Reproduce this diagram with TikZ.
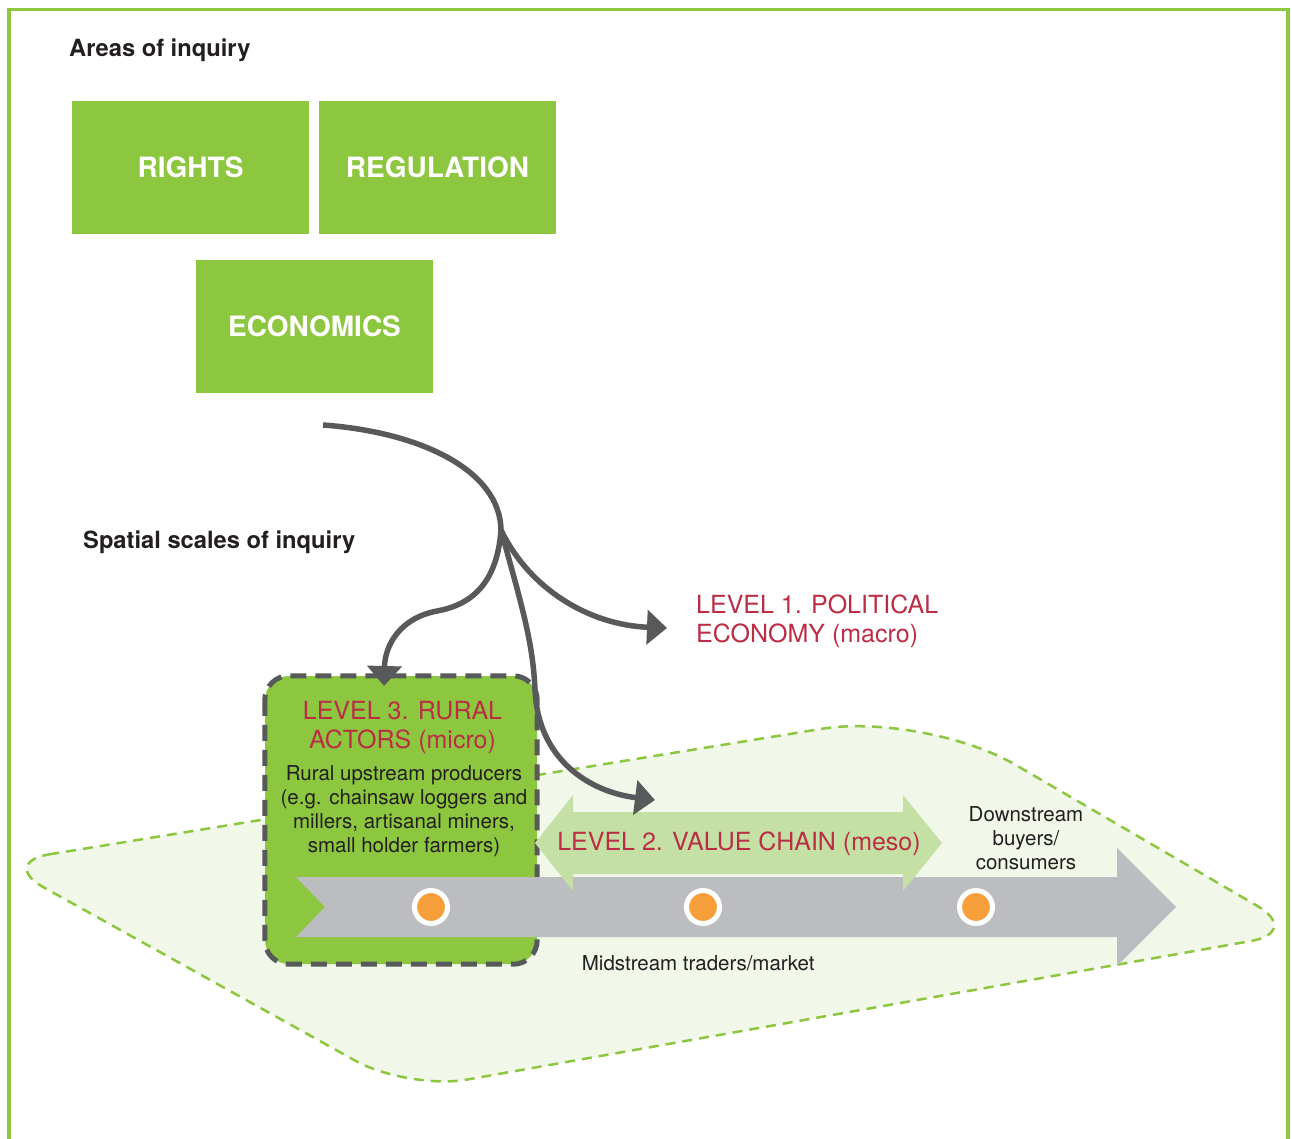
\documentclass[tikz,border=0pt]{standalone}
\usepackage{fontspec}
\setmainfont{TeX Gyre Heros}
\usetikzlibrary{arrows.meta,calc}
\definecolor{lgreen}{RGB}{141,198,63}
\definecolor{blobfill}{RGB}{241,247,233}
\definecolor{vchain}{RGB}{197,224,164}
\definecolor{dgray}{RGB}{88,89,91}
\definecolor{bandgray}{RGB}{188,189,192}
\definecolor{lvlred}{RGB}{187,45,69}
\definecolor{txt}{RGB}{35,31,32}
\definecolor{dotorange}{RGB}{247,160,59}
\tikzset{
  frameline/.style={draw=lgreen, line width=3.5pt},
  areabox/.style={fill=lgreen, text=white, inner sep=0pt, minimum width=237pt, minimum height=133pt,
     font=\fontsize{28}{32}\selectfont\bfseries},
  headtext/.style={inner sep=0pt, text=txt, font=\fontsize{23.7}{28}\selectfont\bfseries},
  lvltext/.style={inner sep=0pt, text=lvlred, font=\fontsize{25}{29}\selectfont},
  bodytext/.style={inner sep=0pt, text=txt, font=\fontsize{20.5}{24}\selectfont},
  blob/.style={fill=blobfill, draw=lgreen, line width=2.5pt, dash pattern=on 10pt off 7pt},
  l3fill/.style={fill=lgreen, draw=none, rounded corners=24pt},
  l3border/.style={draw=dgray, line width=5pt, dash pattern=on 16pt off 9pt, rounded corners=24pt},
  dotnode/.style={circle, fill=dotorange, draw=white, line width=5pt, minimum size=33pt, inner sep=0pt},
  flowline/.style={draw=dgray, line width=5.5pt},
  flow/.style={flowline, -{Triangle[length=20pt,width=34pt]}},
}
\begin{document}
\begin{tikzpicture}[x=1pt,y=-1pt]
\useasboundingbox (0,0) rectangle (1292,1139);
\fill[white] (0,0) rectangle (1292,1139);
% frame (open at the bottom)
\draw[frameline] (9,1145) -- (9,9.5) -- (1288,9.5) -- (1288,1145);

% headings
\node[headtext, anchor=base west] (areas) at (69,56.5) {Areas of inquiry};
\node[headtext, anchor=base west] (spatial) at (83,548) {Spatial scales of inquiry};

% areas of inquiry
\node[areabox] (rights) at (190.5,167.5) {\raisebox{-1.5pt}{RIGHTS}};
\node[areabox] (regulation) at (437.5,167.5) {\raisebox{-1.5pt}{REGULATION}};
\node[areabox] (economics) at (314.5,326.5) {\raisebox{-1.5pt}{ECONOMICS}};

% light green area
\coordinate (L) at (-1,862.5);
\coordinate (T) at (925,712);
\coordinate (R) at (1302,932);
\coordinate (B) at (408,1090);
\path[blob] ($(L)!51pt!(T)$) -- ($(T)!105pt!(L)$)
  .. controls ($(T)!47pt!(L)$) and ($(T)!47pt!(R)$) .. ($(T)!105pt!(R)$)
  -- ($(R)!52pt!(T)$)
  .. controls ($(R)!23pt!(T)$) and ($(R)!23pt!(B)$) .. ($(R)!52pt!(B)$)
  -- ($(B)!60pt!(R)$)
  .. controls ($(B)!27pt!(R)$) and ($(B)!27pt!(L)$) .. ($(B)!60pt!(L)$)
  -- ($(L)!51pt!(B)$)
  .. controls ($(L)!23pt!(B)$) and ($(L)!23pt!(T)$) .. ($(L)!51pt!(T)$) -- cycle;

% level 3 box
\node[l3fill, minimum width=272pt, minimum height=288pt, inner sep=0pt] (l3) at (401,820) {};
\draw[l3border] (l3.north west) rectangle (l3.south east);

% value chain band (grey)
\fill[bandgray] (296,877) -- (1117,877) -- (1117,848) -- (1176,907) -- (1117,966)
  -- (1117,937) -- (296,937) -- (325,907) -- cycle;

% level 2 double arrow
\fill[vchain] (535,843) -- (573,795) -- (573,812) -- (903,812) -- (903,795) -- (942,843)
  -- (903,891) -- (903,874) -- (573,874) -- (573,891) -- cycle;

% stage dots
\node[dotnode] (d1) at (431,907) {};
\node[dotnode] (d2) at (703,907) {};
\node[dotnode] (d3) at (976,907) {};

% texts
\node[lvltext, anchor=north west, align=left] (lvl1) at (696,595) {LEVEL 1. POLITICAL\\ECONOMY (macro)};
\node[lvltext, anchor=north, align=center] (lvl3t) at (402.5,701) {LEVEL 3. RURAL\\ACTORS (micro)};
\node[bodytext, anchor=north, align=center] (lvl3b) at (404,765.3) {Rural upstream producers\\(e.g. chainsaw loggers and\\millers, artisanal miners,\\small holder farmers)};
\node[lvltext, anchor=base] (lvl2) at (739,850) {LEVEL 2. VALUE CHAIN (meso)};
\node[bodytext, anchor=north, align=center] (down) at (1026,806) {Downstream\\buyers/\\consumers};
\node[bodytext, anchor=base west] (mid) at (581.7,970) {Midstream traders/market};

% connectors
\coordinate (src) at (323,425);
\coordinate (hub) at (501,530);
\coordinate (tip3) at (384,686);
\coordinate (tip1) at (667,628);
\coordinate (tip2) at (655,800);
\draw[flowline] (src) .. controls (420,432) and (500,470) .. (hub);
\draw[flow] (hub) .. controls (497,585) and (470,605) .. (437,611)
  .. controls (400,618) and (385,645) .. (tip3);
\draw[flow] (hub) .. controls (530,590) and (590,625) .. (tip1);
\draw[flow] (hub) .. controls (520,600) and (533,640) .. (535,690)
  .. controls (538,760) and (590,792) .. (tip2);
\end{tikzpicture}
\end{document}
